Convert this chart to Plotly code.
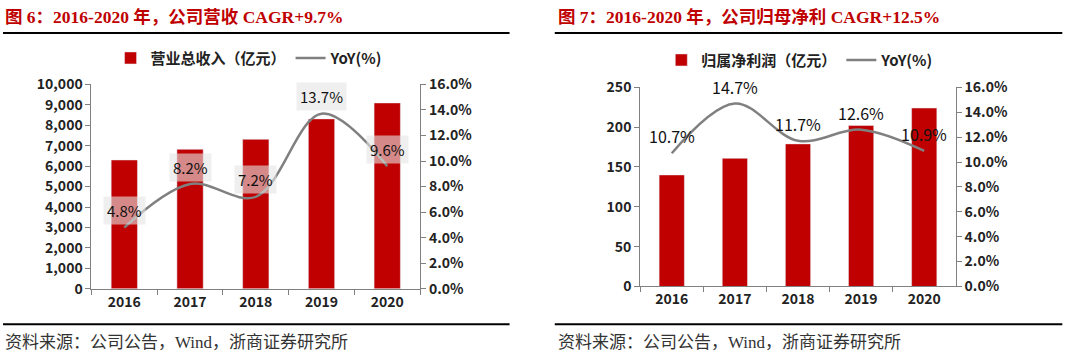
import plotly.graph_objects as go

years = ["2016", "2017", "2018", "2019", "2020"]
revenue = [6300, 6820, 7310, 8310, 9090]
revenue_yoy = [4.8, 8.2, 7.2, 13.7, 9.6]
profit = [140, 160.8, 179, 202, 224]
profit_yoy = [10.7, 14.7, 11.7, 12.6, 10.9]

title_left = "图 6：2016-2020 年，公司营收 CAGR+9.7%"
title_right = "图 7：2016-2020 年，公司归母净利 CAGR+12.5%"
source_text = "资料来源：公司公告，Wind，浙商证券研究所"
bar_name_left = "营业总收入（亿元）"
bar_name_right = "归属净利润（亿元）"
line_name = "YoY(%)"

W, H = 1080, 357
RED = "#C00000"
GRAY = "#808080"
TICKFONT = dict(family="Noto Sans CJK SC, Noto Sans", size=14, color="#222222", weight="bold")
SERIF = "Liberation Serif, Noto Sans CJK SC"

# observed capture mapping: out_y ~ 10 + 0.94*fig_y, out_x ~ 0.995*fig_x
OY, SY, SX = 10.0, 0.94, 0.995


def px(x):
    return (x / SX) / W


def py(y):
    return 1 - ((y - OY) / SY) / H


fig = go.Figure()

fig.add_trace(go.Bar(x=years, y=revenue, name=bar_name_left, marker_color=RED,
                     xaxis="x", yaxis="y", legend="legend"))
fig.add_trace(go.Scatter(x=years, y=revenue_yoy, name=line_name, mode="lines",
                         line=dict(color=GRAY, width=2.5, shape="spline", smoothing=1.0),
                         xaxis="x", yaxis="y2", legend="legend"))
fig.add_trace(go.Bar(x=years, y=profit, name=bar_name_right, marker_color=RED,
                     xaxis="x2", yaxis="y3", legend="legend2"))
fig.add_trace(go.Scatter(x=years, y=profit_yoy, name=line_name, mode="lines",
                         line=dict(color=GRAY, width=2.5, shape="spline", smoothing=1.0),
                         xaxis="x2", yaxis="y4", legend="legend2"))

axis_common = dict(showgrid=False, zeroline=False, showline=True, linecolor=GRAY,
                   linewidth=1, ticks="outside", ticklen=5, tickcolor=GRAY,
                   tickfont=TICKFONT)

annotations = []
# category axes: annotation x is the category's serial index
for i, v in enumerate(revenue_yoy):
    annotations.append(dict(x=i, y=v, xref="x", yref="y2", text=f"{v:.1f}%",
                            showarrow=False, yshift=17, bgcolor="rgba(228,228,228,0.6)",
                            borderpad=3,
                            font=dict(family="Noto Sans CJK SC, Noto Sans", size=15, color="#111111")))
for i, v in enumerate(profit_yoy):
    annotations.append(dict(x=i, y=v, xref="x2", yref="y4", text=f"{v:.1f}%",
                            showarrow=False, yshift=17,
                            font=dict(family="Noto Sans CJK SC, Noto Sans", size=16, color="#111111")))

for x0, title in [(3, title_left), (553, title_right)]:
    annotations.append(dict(x=px(x0), y=py(16), xref="paper", yref="paper", xanchor="left",
                            yanchor="middle", text=f"<b>{title}</b>", showarrow=False,
                            font=dict(family=SERIF, size=17.5, color=RED)))
for x0 in [3, 553]:
    annotations.append(dict(x=px(x0), y=py(340), xref="paper", yref="paper", xanchor="left",
                            yanchor="middle", text=source_text, showarrow=False,
                            font=dict(family=SERIF, size=17, color="#333333")))

shapes = []
for x0, x1 in [(3, 507), (552, 1057)]:
    for yy in [32, 322]:
        shapes.append(dict(type="line", xref="paper", yref="paper", x0=px(x0), x1=px(x1),
                           y0=py(yy), y1=py(yy), line=dict(color="black", width=2)))

legend_common = dict(orientation="h", yanchor="middle", xanchor="left",
                     font=dict(family="Noto Sans CJK SC", size=15, color="#222222", weight="bold"),
                     bgcolor="rgba(0,0,0,0)", itemwidth=30, tracegroupgap=0)

xr = [-0.5, len(years) - 0.5]

fig.update_layout(
    width=W, height=H, margin=dict(l=0, r=0, t=0, b=0),
    paper_bgcolor="white", plot_bgcolor="white",
    bargap=0.6, showlegend=True,
    xaxis=dict(domain=[px(91), px(418)], anchor="y", type="category", tickson="boundaries",
               range=xr, tickangle=0, **axis_common),
    yaxis=dict(domain=[py(286.7), py(83)], anchor="x", range=[0, 10000], dtick=1000,
               tickformat=",d", **axis_common),
    yaxis2=dict(overlaying="y", side="right", anchor="x", range=[0, 16], dtick=2,
                ticksuffix="%", tickformat=".1f", **axis_common),
    xaxis2=dict(domain=[px(637), px(951)], anchor="y3", type="category", tickson="boundaries",
                range=xr, tickangle=0, **axis_common),
    yaxis3=dict(domain=[py(284.3), py(86)], anchor="x2", range=[0, 250], dtick=50,
                **axis_common),
    yaxis4=dict(overlaying="y3", side="right", anchor="x2", range=[0, 16], dtick=2,
                ticksuffix="%", tickformat=".1f", **axis_common),
    legend=dict(x=px(110), y=py(57), **legend_common),
    legend2=dict(x=px(658), y=py(59), **legend_common),
    annotations=annotations,
    shapes=shapes,
)

# pin the graph to the page's top-left corner (no body margin)
post = (
    "document.documentElement.style.margin='0';"
    "document.body.style.margin='0';document.body.style.padding='0';"
    "document.body.style.overflow='hidden';"
    "var gd=document.getElementById('{plot_id}');"
    "gd.style.position='absolute';gd.style.left='0px';gd.style.top='0px';"
)

fig.write_html("out.html", post_script=post,
               config={"displayModeBar": False, "staticPlot": True})
